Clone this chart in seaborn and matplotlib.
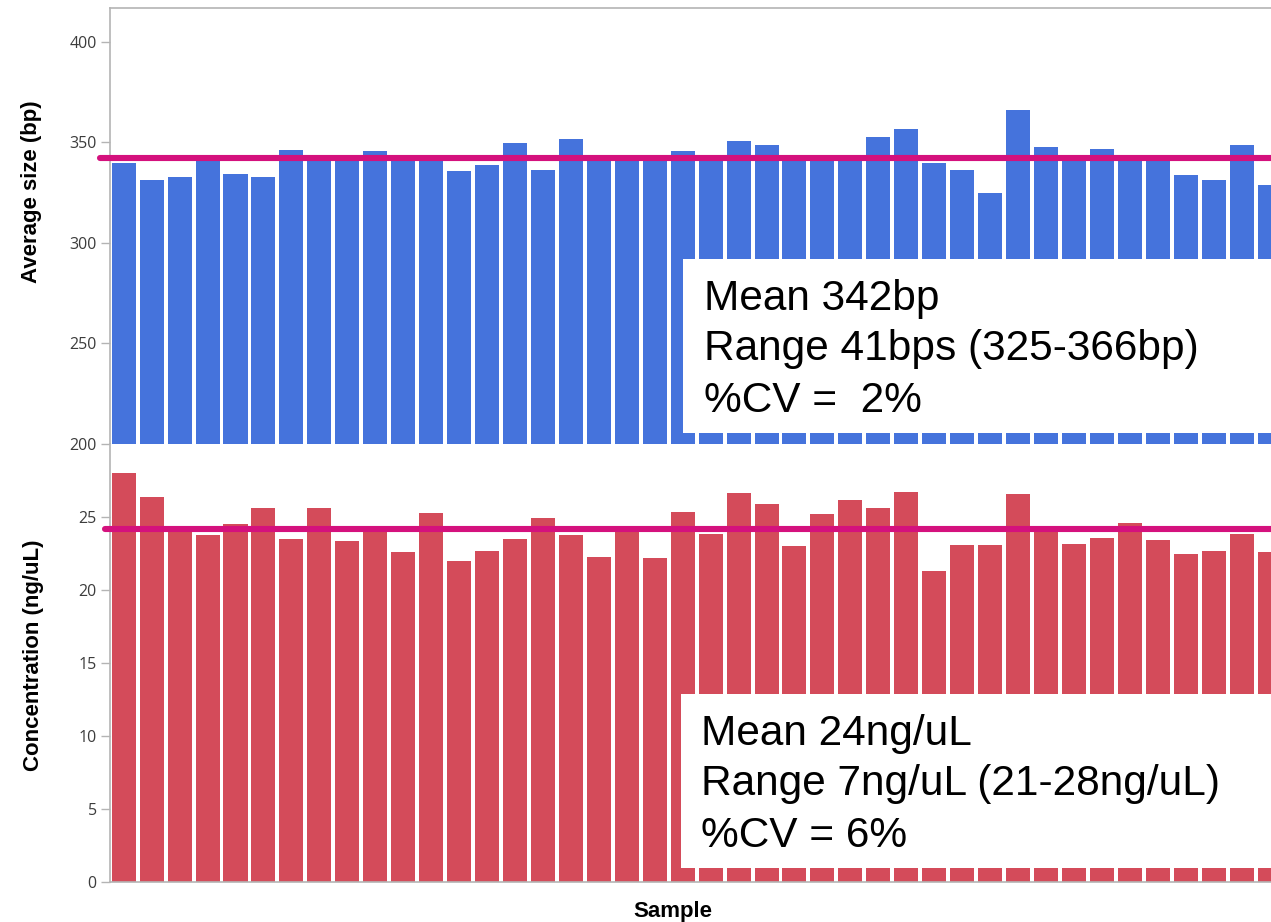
import numpy as np
import matplotlib
matplotlib.use("Agg")
import matplotlib.pyplot as plt
from matplotlib.patches import Rectangle
import seaborn as sns

# Library QC: fragment size and concentration per sample
samples = [f"S{i + 1}" for i in range(42)]

avg_size = [339.5, 331.3, 332.5, 341.3, 334.3, 332.5, 346.3, 343.0, 340.6, 345.6,
            343.0, 343.0, 335.7, 338.5, 349.6, 336.3, 351.4, 343.0, 343.0, 343.0,
            345.6, 343.0, 350.7, 348.5, 343.0, 343.0, 343.0, 352.7, 356.7, 339.6,
            336.4, 325.0, 366.0, 347.7, 343.0, 346.5, 343.0, 343.0, 333.6, 331.4,
            348.5, 328.8]

concentration = [28.0, 26.36, 24.39, 23.75, 24.55, 25.64, 23.48, 25.64, 23.34, 24.1,
                 22.57, 25.25, 21.98, 22.66, 23.48, 24.91, 23.77, 22.23, 24.1, 22.18,
                 25.36, 23.82, 26.61, 25.86, 23.02, 25.23, 26.18, 25.64, 26.68, 21.30,
                 23.07, 23.07, 26.59, 23.95, 23.18, 23.59, 24.61, 23.43, 22.45, 22.68,
                 23.82, 22.57]

size_ticks = [200, 250, 300, 350, 400]
conc_ticks = [0, 5, 10, 15, 20, 25]

size_lines = ["Mean 342bp", "Range 41bps (325-366bp)", "%CV =  2%"]
conc_lines = ["Mean 24ng/uL", "Range 7ng/uL (21-28ng/uL)", "%CV = 6%"]

BLUE = "#4573dc"
RED = "#d44b5a"
MAGENTA = "#d4117d"
SPINE = "#b4b4b4"
TICKTXT = "#3c3c3c"

sns.set_theme(style="white")
plt.rcParams["font.family"] = ["Liberation Sans", "DejaVu Sans"]

W, H = 1271, 922
fig = plt.figure(figsize=(W / 100, H / 100), dpi=100)

left_px, right_px = 110, 1271
top_px, mid_px, bot_px = 7.5, 444, 882

ax1 = fig.add_axes([left_px / W, 1 - mid_px / H, (right_px - left_px) / W, (mid_px - top_px) / H])
ax2 = fig.add_axes([left_px / W, 1 - bot_px / H, (right_px - left_px) / W, (bot_px - mid_px) / H])

sns.barplot(x=samples, y=avg_size, color=BLUE, saturation=1, width=0.86,
            linewidth=0, ax=ax1)
sns.barplot(x=samples, y=concentration, color=RED, saturation=1, width=0.86,
            linewidth=0, ax=ax2)

ax1.set_ylim(200, 417)
ax2.set_ylim(0, 30)
for ax in (ax1, ax2):
    ax.set_xlim(-0.49, 41.05)
    ax.set_xticks([])
    ax.set_xlabel("")
    ax.set_ylabel("")
    for s in ax.spines.values():
        s.set_color(SPINE)
        s.set_linewidth(1.2)
    ax.spines["right"].set_visible(False)
    ax.tick_params(axis="y", which="major", left=True, length=6.5, width=1,
                   color=SPINE, labelcolor=TICKTXT, labelsize=11.5, pad=3)

ax1.spines["bottom"].set_visible(False)
ax2.spines["top"].set_visible(False)
ax1.set_yticks(size_ticks)
ax2.set_yticks(conc_ticks)
for ax in (ax1, ax2):
    for lab in ax.get_yticklabels():
        lab.set_family(["Open Sans", "DejaVu Sans"])

# mean reference lines
ax1.axhline(np.mean(avg_size), xmin=-0.0086, xmax=1, color=MAGENTA, lw=4.4,
            clip_on=False, zorder=4)
ax2.axhline(np.mean(concentration), xmin=-0.0043, xmax=1, color=MAGENTA, lw=4.4,
            clip_on=False, zorder=4)

# summary boxes
def summary(ax, x0, y_bottom, y_top, tx, baselines, lines):
    ax.add_patch(Rectangle((x0, y_bottom), 1.05 - x0, y_top - y_bottom,
                           transform=ax.transAxes, facecolor="white",
                           edgecolor="none", zorder=5, clip_on=False))
    for yb, t in zip(baselines, lines):
        ax.text(tx, yb, t, transform=ax.transAxes, fontsize=30.5, color="black",
                ha="left", va="baseline", zorder=6,
                family=["Liberation Sans", "DejaVu Sans"])

h1 = mid_px - top_px
h2 = bot_px - mid_px
wpx = right_px - left_px
summary(ax1, (683 - left_px) / wpx, (mid_px - 433) / h1, (mid_px - 259) / h1,
        (704 - left_px) / wpx,
        [(mid_px - 310) / h1, (mid_px - 360) / h1, (mid_px - 411.7) / h1], size_lines)
summary(ax2, (681 - left_px) / wpx, (bot_px - 868.3) / h2, (bot_px - 694) / h2,
        (701 - left_px) / wpx,
        [(bot_px - 745) / h2, (bot_px - 795) / h2, (bot_px - 846.7) / h2], conc_lines)

# axis titles
fig.text(32 / W, 1 - 191.5 / H, "Average size (bp)", rotation=90, ha="center",
         va="center", fontsize=16, fontweight="bold", color="black")
fig.text(34 / W, 1 - 655.5 / H, "Concentration (ng/uL)", rotation=90, ha="center",
         va="center", fontsize=16, fontweight="bold", color="black")
fig.text(673 / W, 1 - 916.5 / H, "Sample", ha="center", va="baseline",
         fontsize=16, fontweight="bold", color="black")

fig.savefig("out.png", dpi=100, facecolor="white")
